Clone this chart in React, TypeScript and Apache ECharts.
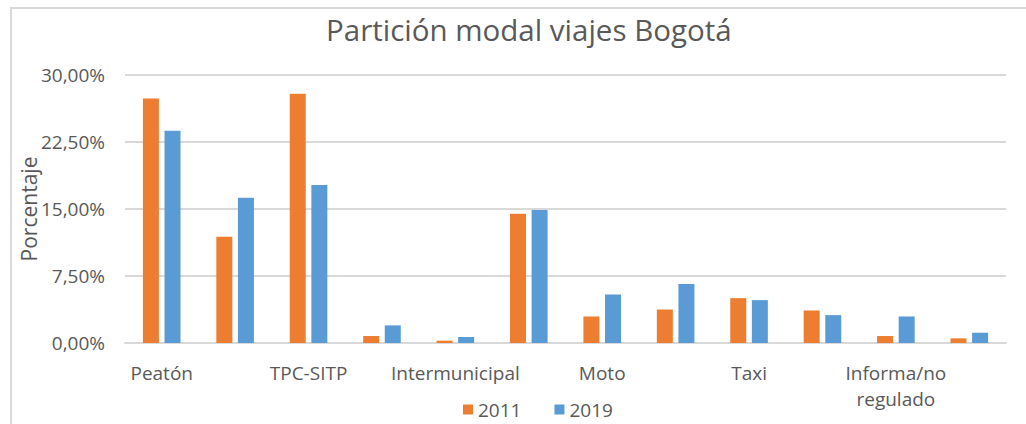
import React, { useEffect, useRef } from "react";
import * as echarts from "echarts";

const categories = [
  "Peatón",
  "TransMilenio",
  "TPC-SITP",
  "Alimentador",
  "Intermunicipal",
  "Auto",
  "Moto",
  "Bicicleta",
  "Taxi",
  "Especial",
  "Informa/no\nregulado",
  "Otro",
];
const series2011 = [27.36, 11.9, 27.9, 0.78, 0.26, 14.46, 2.97, 3.75, 5.02, 3.64, 0.78, 0.52];
const series2019 = [23.75, 16.25, 17.7, 1.97, 0.67, 14.9, 5.43, 6.6, 4.8, 3.12, 2.97, 1.15];
const yTicks = { min: 0, max: 30, interval: 7.5 };

const FONT = "'Open Sans', sans-serif";
const TXT = "#595959";

export default function App() {
  const ref = useRef<HTMLDivElement>(null);
  useEffect(() => {
    document.body.style.margin = "0";
    const chart = echarts.init(ref.current!, null, { renderer: "svg" });
    chart.setOption({
      animation: false,
      backgroundColor: "#ffffff",
      textStyle: { fontFamily: FONT },
      title: {
        text: "Partición modal viajes Bogotá",
        left: 326,
        top: 14,
        padding: 0,
        textStyle: { fontFamily: FONT, fontSize: 29.5, fontWeight: "normal", color: TXT },
      },
      graphic: [
        {
          type: "rect",
          shape: { x: 11, y: 8, width: 1040, height: 440 },
          style: { fill: "none", stroke: "#d9d9d9", lineWidth: 2 },
          silent: true,
        },
      ],
      legend: {
        bottom: 0,
        left: 458,
        itemWidth: 10,
        itemHeight: 10,
        itemGap: 33,
        icon: "rect",
        textStyle: { fontFamily: FONT, fontSize: 19, color: TXT },
        data: ["2011", "2019"],
      },
      grid: { left: 125, right: 20, top: 75, bottom: 81 },
      xAxis: {
        type: "category",
        data: categories,
        axisLine: { lineStyle: { color: "#d9d9d9", width: 2 } },
        axisTick: { show: false },
        axisLabel: {
          interval: 1,
          fontFamily: FONT,
          fontSize: 19,
          color: TXT,
          margin: 17,
          lineHeight: 26,
        },
      },
      yAxis: {
        type: "value",
        min: yTicks.min,
        max: yTicks.max,
        interval: yTicks.interval,
        name: "Porcentaje",
        nameLocation: "middle",
        nameGap: 86,
        nameMoveOverlap: false,
        nameTextStyle: { fontFamily: FONT, fontSize: 21, color: TXT },
        axisLabel: {
          fontFamily: FONT,
          fontSize: 19,
          color: TXT,
          margin: 20,
          formatter: (v: number) => v.toFixed(2).replace(".", ",") + "%",
        },
        splitLine: { lineStyle: { color: "#d9d9d9", width: 2 } },
        axisLine: { show: false },
        axisTick: { show: false },
      },
      series: [
        {
          name: "2011",
          type: "bar",
          data: series2011,
          barWidth: 16,
          barGap: "35%",
          itemStyle: { color: "#ED7D31" },
        },
        {
          name: "2019",
          type: "bar",
          data: series2019,
          barWidth: 16,
          itemStyle: { color: "#5B9BD5" },
        },
      ],
    });
    return () => chart.dispose();
  }, []);
  return <div ref={ref} style={{ width: 1026, height: 424 }} />;
}
